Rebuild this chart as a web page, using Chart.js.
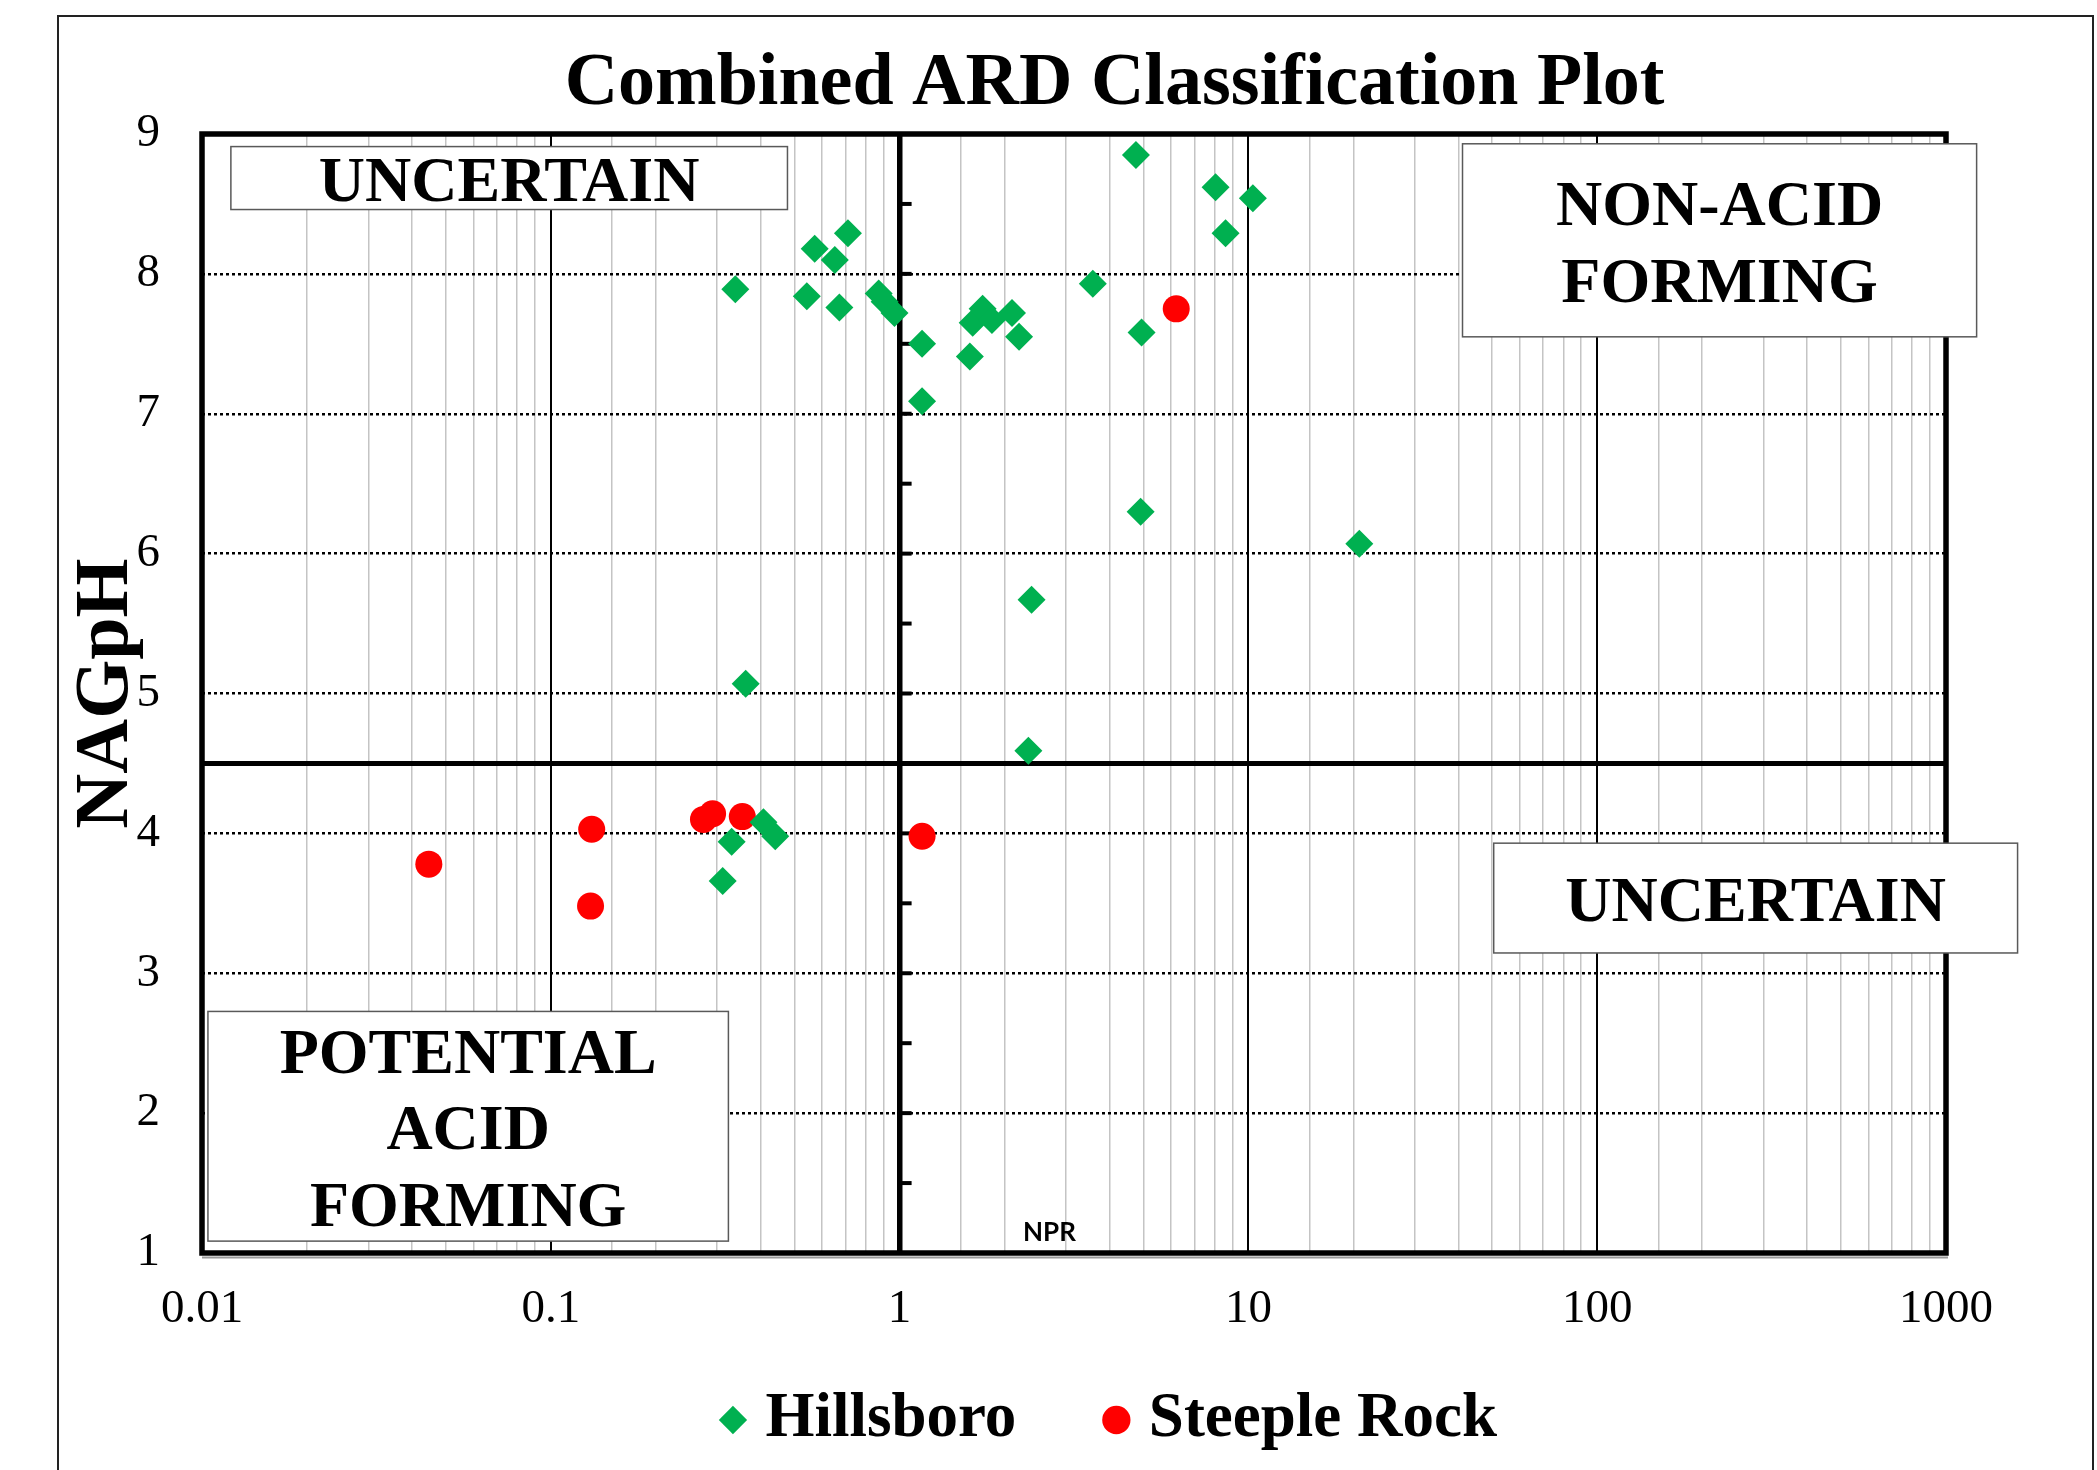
<!DOCTYPE html>
<html>
<head>
<meta charset="utf-8">
<title>Combined ARD Classification Plot</title>
<script src="https://cdn.jsdelivr.net/npm/chart.js@4.4.1/dist/chart.umd.min.js"></script>
<style>
  html, body { margin: 0; padding: 0; background: #fff; }
  canvas { display: block; }
</style>
</head>
<body>
<canvas id="myChart" width="2097" height="1470"></canvas>
<script>
// values
const hillsboroNpr = [0.338, 0.571, 0.711, 0.652, 0.542, 0.672, 0.871, 0.906, 0.967, 1.16, 1.16, 1.59,
    1.62, 1.73, 1.84, 2.10, 2.20, 3.58, 4.76, 8.05, 10.3, 8.60, 4.94, 0.362, 2.39, 2.34, 4.91, 20.8,
    0.330, 0.311, 0.407, 0.440];
const hillsboroPh = [7.89, 8.18, 8.29, 8.10, 7.84, 7.76, 7.86, 7.80, 7.72, 7.50, 7.09, 7.41,
    7.65, 7.75, 7.67, 7.72, 7.55, 7.93, 8.85, 8.62, 8.54, 8.29, 7.58, 5.07, 5.67, 4.59, 6.30, 6.07,
    3.94, 3.66, 4.08, 3.98];
const steepleNpr = [6.21, 0.0447, 0.131, 0.130, 0.274, 0.291, 0.354, 1.16];
const steeplePh = [7.75, 3.78, 4.03, 3.48, 4.10, 4.14, 4.12, 3.98];

const xTickValues = [0.01, 0.1, 1, 10, 100, 1000];
const xTickLabels = ["0.01", "0.1", "1", "10", "100", "1000"];
const yTickValues = [1, 2, 3, 4, 5, 6, 7, 8, 9];
const yTickLabels = ["1", "2", "3", "4", "5", "6", "7", "8", "9"];

const quadrantLabels = [["UNCERTAIN"], ["NON-ACID", "FORMING"], ["UNCERTAIN"], ["POTENTIAL", "ACID", "FORMING"]];
const nprLimit = 1;
const phLimit = 4.5;

const serif = "'Liberation Serif', 'Times New Roman', serif";

// where the quadrant boxes sit, in axis units
const boxPlaces = [
    { x0: 0.0121, x1: 0.477, y0: 8.91, y1: 8.46 },
    { x0: 41.1, x1: 1224, y0: 8.93, y1: 7.55 },
    { x0: 50.5, x1: 1604, y0: 3.93, y1: 3.145 },
    { x0: 0.0104, x1: 0.323, y0: 2.727, y1: 1.085 }
];

const toPoints = (xs, ys) => xs.map((v, i) => ({ x: v, y: ys[i] }));
const isDecade = (v) => Math.abs(Math.log10(v) - Math.round(Math.log10(v))) < 1e-9;

const framePlugin = {
    id: "frame",
    beforeDraw: (chart) => {
        const ctx = chart.ctx;
        ctx.save();
        ctx.fillStyle = "#fff";
        ctx.fillRect(0, 0, chart.width, chart.height);
        ctx.strokeStyle = "#222";
        ctx.lineWidth = 2;
        ctx.beginPath();
        ctx.moveTo(58, chart.height);
        ctx.lineTo(58, 16);
        ctx.lineTo(2093, 16);
        ctx.lineTo(2093, chart.height);
        ctx.stroke();
        ctx.restore();
    },
    beforeDatasetsDraw: (chart) => {
        const { ctx, chartArea: area, scales: { x, y } } = chart;
        ctx.save();

        // pH 4.5 divider
        const yLimit = y.getPixelForValue(phLimit);
        ctx.strokeStyle = "#000";
        ctx.lineWidth = 5;
        ctx.beginPath();
        ctx.moveTo(area.left, yLimit);
        ctx.lineTo(area.right, yLimit);
        ctx.stroke();

        // tick marks on the NPR = 1 axis
        const xLimit = x.getPixelForValue(nprLimit);
        ctx.lineWidth = 4;
        for (let v = 1; v <= 9; v += 0.5) {
            const py = y.getPixelForValue(v);
            ctx.beginPath();
            ctx.moveTo(xLimit, py);
            ctx.lineTo(xLimit + 12, py);
            ctx.stroke();
        }

        // plot border
        ctx.strokeStyle = "#9a9a9a";
        ctx.lineWidth = 2;
        ctx.beginPath();
        ctx.moveTo(area.left, area.bottom + 4.5);
        ctx.lineTo(area.right + 2, area.bottom + 4.5);
        ctx.stroke();
        ctx.strokeStyle = "#000";
        ctx.lineWidth = 5.5;
        ctx.strokeRect(area.left, area.top, area.right - area.left, area.bottom - area.top);

        // quadrant boxes
        ctx.font = "bold 64px " + serif;
        ctx.textAlign = "center";
        ctx.textBaseline = "alphabetic";
        boxPlaces.forEach((b, i) => {
            const left = x.getPixelForValue(b.x0);
            const right = x.getPixelForValue(b.x1);
            const top = y.getPixelForValue(b.y0);
            const bottom = y.getPixelForValue(b.y1);
            ctx.fillStyle = "#fff";
            ctx.fillRect(left, top, right - left, bottom - top);
            ctx.strokeStyle = "#595959";
            ctx.lineWidth = 1.5;
            ctx.strokeRect(left, top, right - left, bottom - top);
            const lines = quadrantLabels[i];
            const cx = (left + right) / 2;
            const cy = (top + bottom) / 2 + 2;
            ctx.fillStyle = "#000";
            lines.forEach((t, j) => {
                ctx.fillText(t, cx, cy + (j - (lines.length - 1) / 2) * 76.5 + 21);
            });
        });
        ctx.restore();
    },
    afterDatasetsDraw: (chart) => {
        const { ctx, scales: { x, y } } = chart;
        ctx.save();
        ctx.font = "bold 26px Lato, 'Open Sans', sans-serif";
        ctx.fillStyle = "#000";
        ctx.textAlign = "center";
        ctx.textBaseline = "middle";
        ctx.fillText("NPR", x.getPixelForValue(2.69), y.getPixelForValue(1.145));
        ctx.restore();
    }
};

new Chart("myChart", {
    type: "scatter",
    data: {
        datasets: [{
            label: "Hillsboro",
            data: toPoints(hillsboroNpr, hillsboroPh),
            pointStyle: "rectRot",
            pointRadius: 14,
            pointHoverRadius: 14,
            backgroundColor: "#00B050",
            borderColor: "#00B050",
            borderWidth: 0
        }, {
            label: "Steeple Rock",
            data: toPoints(steepleNpr, steeplePh),
            pointStyle: "circle",
            pointRadius: 13.5,
            pointHoverRadius: 13.5,
            backgroundColor: "#FF0000",
            borderColor: "#FF0000",
            borderWidth: 0
        }]
    },
    options: {
        responsive: false,
        animation: false,
        devicePixelRatio: 1,
        layout: { padding: { left: 62, right: -70, top: 16, bottom: 8.5 } },
        plugins: {
            title: {
                display: true,
                text: "Combined ARD Classification Plot",
                color: "#000",
                font: { family: serif, size: 74, weight: "bold" },
                padding: { top: 24, bottom: 5.2 }
            },
            legend: {
                position: "bottom",
                labels: {
                    usePointStyle: true,
                    boxWidth: 2,
                    boxHeight: 20,
                    padding: 36,
                    color: "#000",
                    font: { family: serif, size: 63, weight: "bold" },
                    // extra room after the first entry, as in the original legend
                    generateLabels: (chart) => Chart.defaults.plugins.legend.labels.generateLabels(chart)
                        .map((item, i) => {
                            if (i === 0) item.text += "    ";
                            return item;
                        })
                }
            },
            tooltip: { enabled: false }
        },
        scales: {
            x: {
                type: "logarithmic",
                min: 0.01,
                max: 1000,
                afterFit: (s) => { s.height = 99.5; },
                grid: {
                    drawTicks: false,
                    color: (c) => isDecade(c.tick.value) ? "#000" : "#c4c4c4",
                    lineWidth: (c) => c.tick.value === nprLimit ? 5.5 : (isDecade(c.tick.value) ? 2 : 1.5)
                },
                border: { display: false },
                ticks: {
                    autoSkip: false,
                    maxRotation: 0,
                    padding: 28,
                    color: "#000",
                    font: { family: serif, size: 47 },
                    callback: (v) => {
                        const i = xTickValues.findIndex(t => Math.abs(t - v) < t * 1e-6);
                        return i < 0 ? "" : xTickLabels[i];
                    }
                }
            },
            y: {
                min: 1,
                max: 9,
                afterFit: (s) => { s.width = 140; },
                grid: { drawTicks: false, color: "#000", lineWidth: 2.5 },
                border: { display: false, dash: [3, 3] },
                ticks: {
                    stepSize: 1,
                    padding: 42,
                    color: "#000",
                    font: { family: serif, size: 47 },
                    callback: (v) => {
                        const i = yTickValues.indexOf(v);
                        return i < 0 ? "" : yTickLabels[i];
                    }
                },
                title: {
                    display: true,
                    text: "NAGpH",
                    color: "#000",
                    font: { family: serif, size: 76, weight: "bold" },
                    padding: 0
                }
            },
            y2: {
                position: "right",
                afterFit: (s) => { s.width = 221; },
                grid: { display: false },
                border: { display: false },
                ticks: { display: false }
            }
        }
    },
    plugins: [framePlugin]
});
</script>
</body>
</html>
